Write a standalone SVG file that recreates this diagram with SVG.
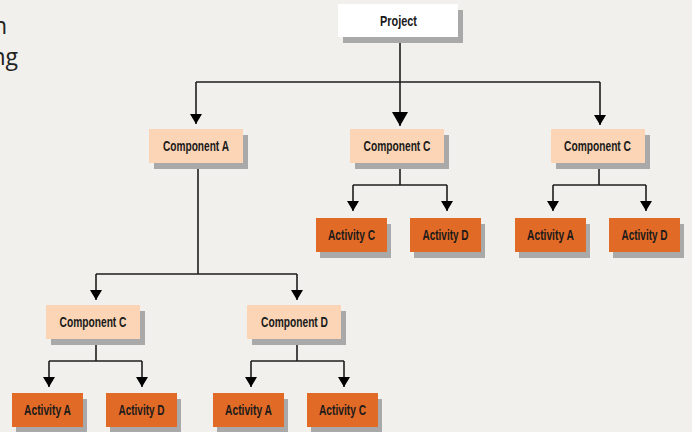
<svg xmlns="http://www.w3.org/2000/svg" width="692" height="432" viewBox="0 0 692 432">
<defs>
<style>
.bg{fill:#f1f0ec}
.sh{fill:#a9a9a9}
.proj{fill:#ffffff}
.comp{fill:#fbd5b5}
.act{fill:#e26a27}
.lbl{font-family:"Liberation Sans",Arial,sans-serif;font-weight:bold;font-size:14.5px;fill:#1a1a1a;text-anchor:middle}
.side{font-family:"Open Sans","Noto Sans",sans-serif;font-size:23px;fill:#222;text-anchor:end}
.con{fill:none;stroke:#1e1e1e;stroke-width:1.6}
</style>
<marker id="ah" markerUnits="userSpaceOnUse" viewBox="0 -6 10 12" refX="10" refY="0" markerWidth="10" markerHeight="12" orient="auto"><path d="M0,-6 L10,0 L0,6 z" fill="#000"/></marker>
<marker id="ahL" markerUnits="userSpaceOnUse" viewBox="0 -8 14 16" refX="14" refY="0" markerWidth="14" markerHeight="16" orient="auto"><path d="M0,-8 L14,0 L0,8 z" fill="#000"/></marker>
</defs>
<rect class="bg" x="0" y="0" width="692" height="432"/>
<text class="side" x="7" y="34">n</text>
<text class="side" x="18" y="65">ng</text>

<g id="connectors">
<path class="con" d="M400,37 V82"/>
<path class="con" d="M196,82 H600"/>
<path class="con" d="M196,82 V124" marker-end="url(#ah)"/>
<path class="con" d="M400,82 V126" stroke-width="2" marker-end="url(#ahL)"/>
<path class="con" d="M600,82 V125" marker-end="url(#ah)"/>
<path class="con" d="M400,163 V185 M353,185 H447"/>
<path class="con" d="M353,185 V211" marker-end="url(#ah)"/>
<path class="con" d="M447,185 V211" marker-end="url(#ah)"/>
<path class="con" d="M599,163 V185 M553,185 H646"/>
<path class="con" d="M553,185 V211" marker-end="url(#ah)"/>
<path class="con" d="M646,185 V211" marker-end="url(#ah)"/>
<path class="con" d="M198,163 V274 M96,274 H297"/>
<path class="con" d="M96,274 V300" marker-end="url(#ah)"/>
<path class="con" d="M297,274 V300" marker-end="url(#ah)"/>
<path class="con" d="M96,339 V361 M49,361 H142"/>
<path class="con" d="M49,361 V387" marker-end="url(#ah)"/>
<path class="con" d="M142,361 V387" marker-end="url(#ah)"/>
<path class="con" d="M297,339 V361 M251,361 H344"/>
<path class="con" d="M251,361 V387" marker-end="url(#ah)"/>
<path class="con" d="M344,361 V387" marker-end="url(#ah)"/>
</g>

<g id="project"><rect class="sh" x="343" y="10" width="120" height="33"/><rect class="proj" x="338" y="4" width="120" height="33"/><text class="lbl" x="398.5" y="25.5" textLength="37" lengthAdjust="spacingAndGlyphs">Project</text></g>

<g id="compA"><rect class="sh" x="154" y="135" width="94" height="34"/><rect class="comp" x="149" y="129" width="94" height="34"/><text class="lbl" x="196" y="151" textLength="66" lengthAdjust="spacingAndGlyphs">Component A</text></g>
<g id="compC1"><rect class="sh" x="355" y="135" width="94" height="34"/><rect class="comp" x="350" y="129" width="94" height="34"/><text class="lbl" x="397" y="151" textLength="67" lengthAdjust="spacingAndGlyphs">Component C</text></g>
<g id="compC2"><rect class="sh" x="556" y="135" width="94" height="34"/><rect class="comp" x="551" y="129" width="94" height="34"/><text class="lbl" x="597.5" y="151" textLength="67" lengthAdjust="spacingAndGlyphs">Component C</text></g>

<g id="actC1"><rect class="sh" x="320" y="224" width="71" height="34"/><rect class="act" x="316" y="218" width="71" height="34"/><text class="lbl" x="351.5" y="240" textLength="47" lengthAdjust="spacingAndGlyphs">Activity C</text></g>
<g id="actD1"><rect class="sh" x="414" y="224" width="71" height="34"/><rect class="act" x="410" y="218" width="71" height="34"/><text class="lbl" x="445.5" y="240" textLength="46" lengthAdjust="spacingAndGlyphs">Activity D</text></g>
<g id="actA2"><rect class="sh" x="519" y="224" width="71" height="34"/><rect class="act" x="515" y="218" width="71" height="34"/><text class="lbl" x="550.5" y="240" textLength="47" lengthAdjust="spacingAndGlyphs">Activity A</text></g>
<g id="actD2"><rect class="sh" x="613" y="224" width="71" height="34"/><rect class="act" x="609" y="218" width="71" height="34"/><text class="lbl" x="644.5" y="240" textLength="46" lengthAdjust="spacingAndGlyphs">Activity D</text></g>

<g id="compC3"><rect class="sh" x="51" y="311" width="94" height="34"/><rect class="comp" x="46" y="305" width="94" height="34"/><text class="lbl" x="93" y="327" textLength="67" lengthAdjust="spacingAndGlyphs">Component C</text></g>
<g id="compD"><rect class="sh" x="252" y="311" width="94" height="34"/><rect class="comp" x="247" y="305" width="94" height="34"/><text class="lbl" x="294.5" y="327" textLength="67" lengthAdjust="spacingAndGlyphs">Component D</text></g>

<g id="actA3"><rect class="sh" x="16" y="399" width="71" height="34"/><rect class="act" x="12" y="393" width="71" height="34"/><text class="lbl" x="47.5" y="415" textLength="47" lengthAdjust="spacingAndGlyphs">Activity A</text></g>
<g id="actD3"><rect class="sh" x="110" y="399" width="71" height="34"/><rect class="act" x="106" y="393" width="71" height="34"/><text class="lbl" x="141.5" y="415" textLength="46" lengthAdjust="spacingAndGlyphs">Activity D</text></g>
<g id="actA4"><rect class="sh" x="217" y="399" width="71" height="34"/><rect class="act" x="213" y="393" width="71" height="34"/><text class="lbl" x="248.5" y="415" textLength="47" lengthAdjust="spacingAndGlyphs">Activity A</text></g>
<g id="actC4"><rect class="sh" x="311" y="399" width="71" height="34"/><rect class="act" x="307" y="393" width="71" height="34"/><text class="lbl" x="342.5" y="415" textLength="47" lengthAdjust="spacingAndGlyphs">Activity C</text></g>
</svg>
